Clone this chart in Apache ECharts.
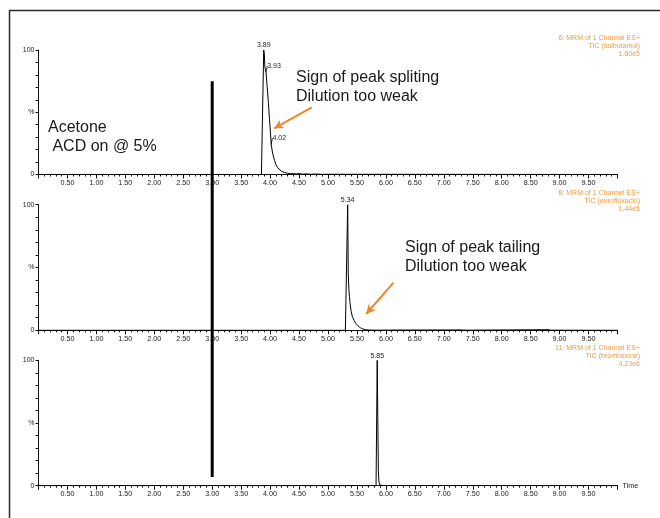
<!DOCTYPE html>
<html>
<head>
<meta charset="utf-8">
<script src="https://cdn.jsdelivr.net/npm/echarts@6/dist/echarts.min.js"></script>
<style>
  html, body { margin: 0; padding: 0; background: #fff; }
  #chart { width: 660px; height: 518px; }
</style>
</head>
<body>
<div id="chart"></div>
<script>
// Retention time (min) and relative intensity (%) for each MRM trace
const salbutamolTime = [0, 3.85, 3.89, 3.90, 3.91, 3.93, 3.95, 3.97, 3.99, 4.01, 4.02, 4.04, 4.06, 4.08, 4.10, 4.13, 4.16, 4.20, 4.25, 4.30, 4.35, 4.40, 4.45, 4.50, 4.56, 4.62, 4.70, 4.80, 4.90, 5.00, 10];
const salbutamolPct  = [0, 0,    100,  97,   86,   82,   70,   58,   44,   31,   24,   18,   14,   11,   8,    5.5,  4,    2.5,  1.6,  1.0,  0.6,  0.8,  0.4,  0.7,  0.3,  0.5,  0.2,  0.4,  0.1,  0.2,  0];

const enrofloxacinTime = [0, 5.30, 5.34, 5.35, 5.36, 5.37, 5.38, 5.40, 5.42, 5.45, 5.48, 5.52, 5.56, 5.60, 5.65, 5.72, 5.80, 6.20, 7.30, 7.40, 8.80, 8.85, 10];
const enrofloxacinPct  = [0, 0,    100,  45,   33,   27,   22,   15,   11,   8,    5.5,  3.5,  2,    1.1,  0.5,  0.2,  0.1,  0.2,  0.3,  0.1,  0.5,  0.1,  0];

const bromhexineTime = [0, 5.83, 5.85, 5.86, 5.87, 5.88, 5.90, 5.95, 10];
const bromhexinePct  = [0, 0,    100,  55,   12,   3,    0.5,  0.1,  0];

// Apex labels and tagged retention times
const salbutamolApex = [3.89];
const salbutamolTagTime = [3.93, 4.02];
const salbutamolTagPct = [82, 24];
const enrofloxacinApex = [5.34];
const bromhexineApex = [5.85];

// Trace headers (function, channel, compound, full-scale intensity)
const traceHeaders = [
  ['6: MRM of 1 Channel ES+', 'TIC (salbutamol)', '1.60e5'],
  ['8: MRM of 1 Channel ES+', 'TIC (enrofloxacin)', '1.44e5'],
  ['11: MRM of 1 Channel ES+', 'TIC (bromhexine)', '4.23e6']
];

// Axis ticks
const timeTickStep = 0.5;
const pctTickStep = 10;

const FONT = 'Liberation Sans, Arial, Helvetica, sans-serif';
const ORANGE_TEXT = '#EF9C45';
const ORANGE_ARROW = '#E8892B';
const INK = '#1a1a1a';

const grids = [
  { left: 38.5, top: 50, width: 579, height: 124.5 },
  { left: 38.5, top: 204.7, width: 579, height: 125.6 },
  { left: 38.5, top: 360.3, width: 579, height: 125.4 }
];

const tagLabel = { fontSize: 7, color: '#222', fontFamily: FONT };

function traceData(times, pcts, apexTimes) {
  return times.map((t, i) => {
    const item = { value: [t, pcts[i]] };
    if (apexTimes.indexOf(t) >= 0) {
      item.label = Object.assign({
        show: true, position: 'top', distance: 1, formatter: t.toFixed(2)
      }, tagLabel);
    }
    return item;
  });
}

function xAxisFor(i) {
  const ax = {
    gridIndex: i, type: 'value', min: 0, max: 10, interval: timeTickStep,
    axisLine: { lineStyle: { color: '#111', width: 1 } },
    axisTick: { length: 4, lineStyle: { color: '#111' } },
    minorTick: { show: true, splitNumber: 5, length: 2, lineStyle: { color: '#111' } },
    splitLine: { show: false },
    axisLabel: {
      fontSize: 7.2, color: '#222', margin: 5, fontFamily: FONT,
      showMinLabel: false, showMaxLabel: false,
      formatter: v => v.toFixed(2)
    }
  };
  if (i === 2) {
    ax.name = 'Time';
    ax.nameLocation = 'end';
    ax.nameGap = 5;
    ax.nameTextStyle = { fontSize: 7.2, color: '#222', fontFamily: FONT };
  }
  return ax;
}

function yAxisFor(i) {
  return {
    gridIndex: i, type: 'value', min: 0, max: 100, interval: pctTickStep,
    axisLine: { show: true, lineStyle: { color: '#111', width: 1 } },
    axisTick: { show: true, length: 3, lineStyle: { color: '#111' } },
    splitLine: { show: false },
    axisLabel: {
      fontSize: 7, color: '#222', margin: 4, fontFamily: FONT,
      formatter: v => (v === 100 ? '100' : v === 0 ? '0' : v === 50 ? '%' : '')
    }
  };
}

// Traces: invisible symbols so that per-point labels can still be drawn
const traceBase = {
  type: 'line', showSymbol: true, showAllSymbol: true, symbol: 'circle', symbolSize: 0,
  lineStyle: { color: '#000', width: 1 }, itemStyle: { color: '#000' },
  labelLayout: { hideOverlap: false }
};

// Short leader strokes from a point on the trace up to its time tag
function tagSeries(t, p) {
  return Object.assign({}, traceBase, {
    xAxisIndex: 0, yAxisIndex: 0, silent: true,
    lineStyle: { color: '#000', width: 0.8 },
    data: [
      { value: [t - 0.005, p] },
      {
        value: [t + 0.02, p + 5],
        label: Object.assign({
          show: true, position: 'right', distance: 0, offset: [-1, -3], formatter: t.toFixed(2)
        }, tagLabel)
      }
    ]
  });
}

const arrowStyle = {
  silent: true, symbol: ['none', 'arrow'], symbolSize: [7, 9],
  lineStyle: { color: ORANGE_ARROW, width: 2, type: 'solid' },
  label: { show: false }
};

const option = {
  animation: false,
  backgroundColor: '#fff',
  grid: grids,
  xAxis: [0, 1, 2].map(xAxisFor),
  yAxis: [0, 1, 2].map(yAxisFor),
  series: [
    Object.assign({}, traceBase, {
      xAxisIndex: 0, yAxisIndex: 0,
      data: traceData(salbutamolTime, salbutamolPct, salbutamolApex),
      markLine: Object.assign({}, arrowStyle, {
        data: [[{ coord: [4.72, 54] }, { coord: [4.07, 37] }]]
      })
    }),
    Object.assign({}, traceBase, {
      xAxisIndex: 1, yAxisIndex: 1,
      data: traceData(enrofloxacinTime, enrofloxacinPct, enrofloxacinApex),
      markLine: Object.assign({}, arrowStyle, {
        data: [[{ coord: [6.13, 38] }, { coord: [5.66, 13] }]]
      })
    }),
    Object.assign({}, traceBase, {
      xAxisIndex: 2, yAxisIndex: 2,
      data: traceData(bromhexineTime, bromhexinePct, bromhexineApex)
    })
  ].concat(salbutamolTagTime.map((t, i) => tagSeries(t, salbutamolTagPct[i])))
};

const chart = echarts.init(document.getElementById('chart'), null, { renderer: 'canvas' });
chart.setOption(option);

// Overlays placed through the axes: solvent-front bar at 3.00 min across all panes
const barTop = chart.convertToPixel({ gridIndex: 0 }, [3.0, 75]);
const barBottom = chart.convertToPixel({ gridIndex: 2 }, [3.0, 7]);

const headerGraphics = traceHeaders.map((lines, i) => ({
  type: 'text', z: 50,
  x: 640, y: grids[i].top - 16,
  style: {
    text: lines.join('\n'), textAlign: 'right', textVerticalAlign: 'top',
    fontSize: 7, lineHeight: 8, fill: ORANGE_TEXT, fontFamily: FONT
  }
}));

const noteStyle = { fontSize: 16, lineHeight: 18.8, fill: INK, fontFamily: FONT, textVerticalAlign: 'top' };

chart.setOption({
  graphic: [
    {
      type: 'rect', z: 1, silent: true,
      shape: { x: 9.5, y: 10.5, width: 720, height: 620 },
      style: { fill: 'none', stroke: '#2a2a2a', lineWidth: 1.5 }
    },
    {
      type: 'line', z: 100, silent: true,
      shape: { x1: barTop[0], y1: barTop[1], x2: barBottom[0], y2: barBottom[1] },
      style: { stroke: '#000', lineWidth: 3 }
    },
    {
      type: 'text', z: 50, x: 48, y: 118,
      style: Object.assign({ text: 'Acetone\n ACD on @ 5%' }, noteStyle)
    },
    {
      type: 'text', z: 50, x: 296, y: 68,
      style: Object.assign({ text: 'Sign of peak spliting\nDilution too weak' }, noteStyle)
    },
    {
      type: 'text', z: 50, x: 405, y: 238,
      style: Object.assign({ text: 'Sign of peak tailing\nDilution too weak' }, noteStyle)
    }
  ].concat(headerGraphics)
});
</script>
</body>
</html>
